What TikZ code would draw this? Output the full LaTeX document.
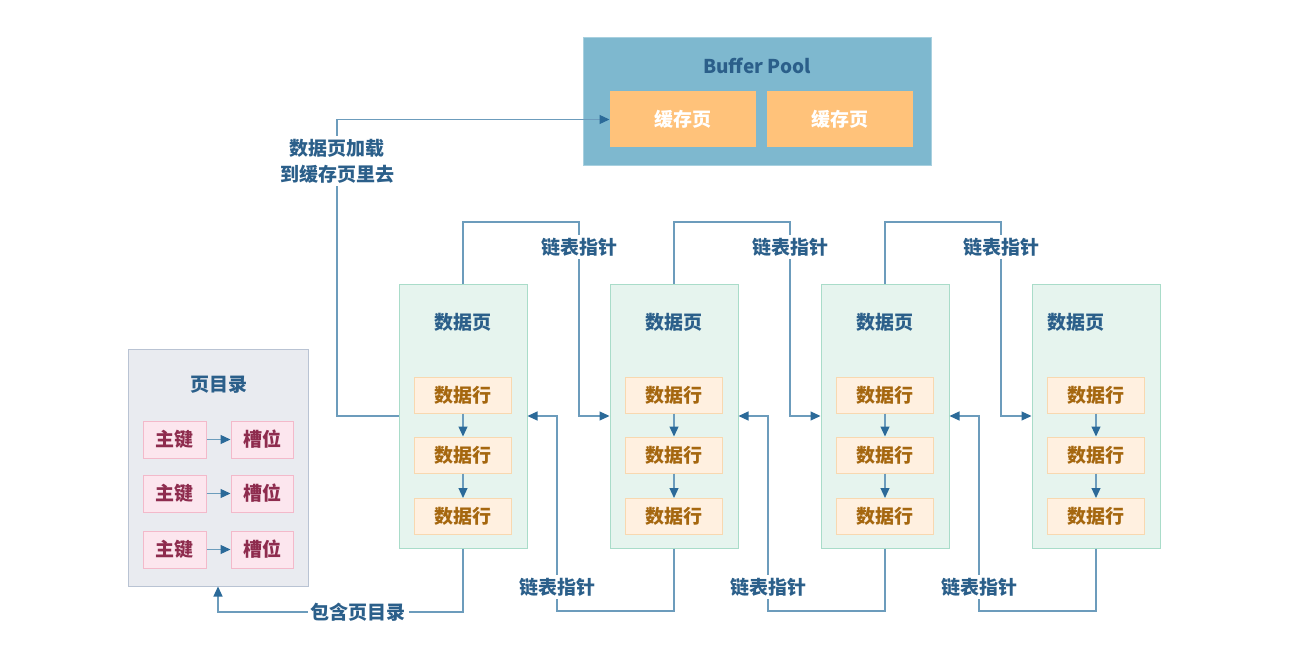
\documentclass[tikz,border=0pt]{standalone}
\usepackage{fontspec}
\setmainfont{Noto Sans CJK SC}
\usetikzlibrary{arrows.meta}
\definecolor{linkc}{HTML}{6C9CBC}
\definecolor{tipc}{HTML}{2B6A99}
\definecolor{lblc}{HTML}{2B5F8A}
\definecolor{bpfill}{HTML}{7EB8CF}
\definecolor{bpdraw}{HTML}{A8D0DF}
\definecolor{cachec}{HTML}{FFC27A}
\definecolor{pgfillc}{HTML}{E6F4EE}
\definecolor{pgdrawc}{HTML}{A9DCC9}
\definecolor{rowfill}{HTML}{FFF0E0}
\definecolor{rowdraw}{HTML}{F8D8B0}
\definecolor{rowtext}{HTML}{A5670F}
\definecolor{dirfill}{HTML}{E9EBF0}
\definecolor{dirdraw}{HTML}{B9C3D3}
\definecolor{keyfill}{HTML}{FCE6EE}
\definecolor{keydraw}{HTML}{F3B9CA}
\definecolor{keytext}{HTML}{8E2C4E}
\tikzset{
  every node/.style={font=\fontsize{19}{23}\selectfont\bfseries},
  box/.style={draw, line width=1pt, inner sep=0pt, anchor=center},
  pagebox/.style={box, fill=pgfillc, draw=pgdrawc, minimum width=128pt, minimum height=264pt},
  rowbox/.style={box, fill=rowfill, draw=rowdraw, minimum width=97pt, minimum height=36pt, text=rowtext},
  keybox/.style={box, fill=keyfill, draw=keydraw, minimum width=63pt, minimum height=37pt, text=keytext},
  cachebox/.style={box, fill=cachec, draw=cachec, minimum width=145pt, minimum height=55pt, text=white},
  lbl/.style={text=lblc, inner sep=2pt},
  wlbl/.style={text=lblc, fill=white, inner sep=3pt},
  link/.style={draw=linkc, line width=1.2pt, -{Triangle[length=10pt,width=9pt,color=tipc]}},
}
\begin{document}
\begin{tikzpicture}[x=1pt,y=-1pt]
\useasboundingbox[fill=white] (0,0) rectangle (1302,650);
% Buffer pool
\node[box, fill=bpfill, draw=bpdraw, minimum width=348pt, minimum height=128pt] (bp) at (757,102) {};
\node[lbl] (bpt) at (757,66) {Buffer Pool};
\node[cachebox] (c1) at (682.5,119.5) {缓存页};
\node[cachebox] (c2) at (839.5,119.5) {缓存页};
% Page directory
\node[box, fill=dirfill, draw=dirdraw, minimum width=180pt, minimum height=237pt] (dir) at (218,467.5) {};
\node[lbl] (dirt) at (219,385) {页目录};
\foreach \i/\y in {1/439.5,2/493.5,3/549.5}{
  \node[keybox] (k\i) at (174.5,\y) {主键};
  \node[keybox, minimum width=62pt] (s\i) at (262,\y) {槽位};
  \draw[link] (k\i.east) -- (s\i.west);
}
% Data pages
\foreach \i/\x in {1/463,2/674,3/885,4/1096}{
  \node[pagebox] (p\i) at (\x,416) {};
  \node[rowbox] (r\i a) at (\x,395) {数据行};
  \node[rowbox] (r\i b) at (\x,455) {数据行};
  \node[rowbox] (r\i c) at (\x,516.5) {数据行};
  \draw[link] (r\i a.south) -- (r\i b.north);
  \draw[link] (r\i b.south) -- (r\i c.north);
}
\node[lbl] (pt1) at (463,322) {数据页};
\node[lbl] (pt2) at (674,322) {数据页};
\node[lbl] (pt3) at (885,322) {数据页};
\node[lbl] (pt4) at (1076,322) {数据页};
% forward links (top)
\draw[link] (p1.north) -- (463,222) -| (579,416) -- (p2.west);
\draw[link] (p2.north) -- (674,222) -| (790,416) -- (p3.west);
\draw[link] (p3.north) -- (885,222) -| (1001,416) -- (p4.west);
% backward links (bottom)
\draw[link] (p2.south) -- (674,611) -| (557,416) -- (p1.east);
\draw[link] (p3.south) -- (885,611) -| (768,416) -- (p2.east);
\draw[link] (p4.south) -- (1096,611) -| (979,416) -- (p3.east);
% page directory link
\draw[link] (p1.south) -- (463,612) -| (dir.south);
% load link
\draw[link] (p1.west) -| (337,119.5) -- (c1.west);
% labels
\node[wlbl] (l1) at (579,247) {链表指针};
\node[wlbl] (l2) at (790,247) {链表指针};
\node[wlbl] (l3) at (1001,247) {链表指针};
\node[wlbl] (l4) at (557,587) {链表指针};
\node[wlbl] (l5) at (768,587) {链表指针};
\node[wlbl] (l6) at (979,587) {链表指针};
\node[wlbl] (l7) at (358,612) {包含页目录};
\node[wlbl, align=center, font=\fontsize{19}{26}\selectfont\bfseries] (l8) at (337,161) {数据页加载\\到缓存页里去};
\end{tikzpicture}
\end{document}
